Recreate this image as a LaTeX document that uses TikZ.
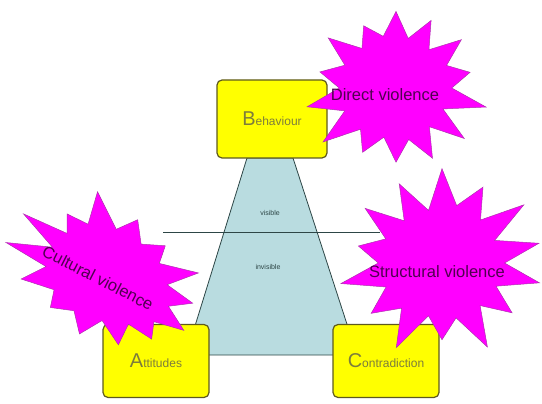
\documentclass[tikz,border=0pt]{standalone}
\usepackage{fontspec}
\setmainfont{Liberation Sans}
\usepackage{tikz}

\definecolor{boxyellow}{RGB}{255,255,0}
\definecolor{boxedge}{RGB}{95,90,30}
\definecolor{boxtext}{RGB}{125,125,60}
\definecolor{trapfill}{RGB}{185,220,224}
\definecolor{trapedge}{RGB}{45,70,70}
\definecolor{burstfill}{RGB}{255,0,255}
\definecolor{burstedge}{RGB}{175,50,175}
\definecolor{bursttext}{RGB}{80,0,80}

% irregular explosion: centre #1,#2, radii #3,#4, seed #5
\newcommand{\explosion}[5]{%
  \pgfmathsetseed{#5}%
  \draw[burstline] ({#1+0.68*#3},{#2})
    \foreach \k [evaluate=\k as \f using {mod(\k,2)==0 ? 0.63+0.09*rnd : 0.85+0.3*rnd}] in {1,...,27}{
      -- ({#1+\f*#3*cos(\k*360/28)},{#2+\f*#4*sin(\k*360/28)})} -- cycle;}

\begin{document}
\begin{tikzpicture}[x=1pt, y=-1pt,
  cornerbox/.style={draw=boxedge, line width=1.2pt, fill=boxyellow, rounded corners=5pt,
    minimum width=106pt, minimum height=73pt, text=boxtext, font=\fontsize{12}{14}\selectfont},
  burstline/.style={draw=burstedge, line width=0.5pt, fill=burstfill, line join=miter},
  bursttxt/.style={text=bursttext, inner sep=0pt, font=\fontsize{16.5}{18}\selectfont},
  level/.style={font=\fontsize{7}{8}\selectfont, text=trapedge}]
  \useasboundingbox (0,0) rectangle (542,404);
  % pyramid and the visible / invisible divide
  \draw[trapedge, line width=0.8pt, fill=trapfill] (247,158) -- (293,158) -- (357,355) -- (186,355) -- cycle;
  \draw[trapedge, line width=0.9pt] (163,232) -- (380,232);
  \node[level] (vis) at (270,213) {visible};
  \node[level] (invis) at (268,267) {invisible};
  % corners
  \node[cornerbox, minimum width=110pt, minimum height=78pt] (beh) at (272,119) {{\fontsize{20}{22}\selectfont B}ehaviour};
  \node[cornerbox] (att) at (156,361) {{\fontsize{20}{22}\selectfont A}ttitudes};
  \node[cornerbox] (con) at (386,361) {{\fontsize{20}{22}\selectfont C}ontradiction};
  % violence
  \explosion{396}{88}{82}{76}{5}
  \node[bursttxt] (direct) at (385,95) {Direct violence};
  \begin{scope}[rotate around={-27:(109,276)}]
    \explosion{109}{276}{98}{68}{17}
  \end{scope}
  \node[bursttxt, rotate=-27] (cultural) at (98,278) {Cultural violence};
  \explosion{442}{263}{92}{82}{29}
  \node[bursttxt] (structural) at (437,272) {Structural violence};
\end{tikzpicture}
\end{document}
